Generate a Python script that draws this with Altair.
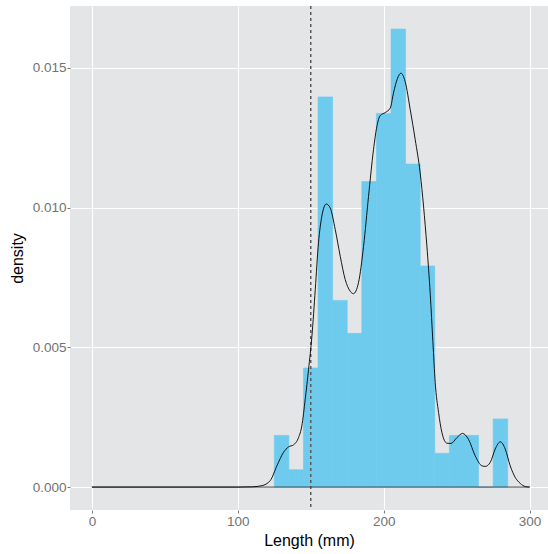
import altair as alt
import pandas as pd

# Histogram bins (binwidth 10), left edges and density heights
bin_start = [125, 135, 145, 155, 165, 175, 185, 195, 205, 215, 225, 235, 245, 255, 265, 275]
bin_density = [0.00185, 0.00062, 0.00426, 0.01396, 0.00668, 0.00550, 0.01093, 0.01337,
               0.01639, 0.01156, 0.00791, 0.00121, 0.00185, 0.00185, 0.0, 0.00244]

# Kernel density curve
dens_x = [0, 50, 100, 110, 116.5, 122.2, 126.8, 131.3, 134.8, 138.2, 141.6, 143.9, 146.2,
          148.5, 150.8, 153.1, 155.3, 157.6, 160.6, 163.3, 166.8, 170.2, 173.6, 177.0,
          179.3, 182.7, 186.2, 189.6, 193.0, 195.3, 197.6, 201.0, 204.5, 206.7, 209.5,
          211.8, 214.7, 218.2, 221.6, 225.0, 227.3, 229.6, 231.9, 233.7, 235.3, 237.6,
          239.9, 243.3, 246.1, 250.2, 254.0, 258.1, 262.7, 267.3, 269.6, 273.0, 276.4,
          279.9, 283.3, 286.7, 290.1, 293.6, 297.0, 300]
dens_y = [0, 0, 0, 0.00001, 0.00005, 0.00023, 0.00076, 0.00124, 0.00144, 0.00151, 0.00177,
          0.00219, 0.00314, 0.00421, 0.00540, 0.00707, 0.00874, 0.00969, 0.01013, 0.00999,
          0.00921, 0.00826, 0.00743, 0.00701, 0.00692, 0.00731, 0.00862, 0.01040, 0.01207,
          0.01290, 0.01329, 0.01340, 0.01356, 0.01410, 0.01463, 0.01481, 0.01451, 0.01350,
          0.01243, 0.01124, 0.01005, 0.00862, 0.00690, 0.00520, 0.00374, 0.00267, 0.00195,
          0.00157, 0.00156, 0.00177, 0.00192, 0.00171, 0.00112, 0.00076, 0.00074, 0.00088,
          0.00136, 0.00162, 0.00136, 0.00076, 0.00035, 0.00013, 0.00002, 0]

cutoff = [150]
x_ticks = [0, 100, 200, 300]
y_ticks = [0.0, 0.005, 0.010, 0.015]
binwidth = 10

bars = pd.DataFrame({"start": bin_start, "density": bin_density})
bars["end"] = bars["start"] + binwidth
dens = pd.DataFrame({"x": dens_x, "y": dens_y})
base_df = pd.DataFrame({"x": [dens_x[0]], "x2": [dens_x[-1]], "y": [0.0]})
vline_df = pd.DataFrame({"x": cutoff})

xs = alt.Scale(domain=[-15, 312.6], nice=False, zero=False)
ys = alt.Scale(domain=[-0.00082, 0.017213], nice=False, zero=False)

x_axis = alt.Axis(values=x_ticks, title="Length (mm)", format="d", titlePadding=5)
y_axis = alt.Axis(values=y_ticks, title="density", format=".3f", titlePadding=7)

hist = alt.Chart(bars).mark_rect(color="#6ECBEE", stroke="#6ECBEE", strokeWidth=0.6).encode(
    x=alt.X("start:Q", scale=xs, axis=x_axis),
    x2="end:Q",
    y=alt.Y("density:Q", scale=ys, axis=y_axis),
    y2=alt.datum(0),
)

baseline = alt.Chart(base_df).mark_rule(color="#333333", strokeWidth=0.9).encode(
    x=alt.X("x:Q", scale=xs), x2="x2:Q", y=alt.Y("y:Q", scale=ys)
)

vline = alt.Chart(vline_df).mark_rule(color="#5a5a5a", strokeWidth=1.5, strokeDash=[3, 3]).encode(
    x=alt.X("x:Q", scale=xs)
)

curve = alt.Chart(dens).mark_line(color="black", strokeWidth=0.9, interpolate="monotone").encode(
    x=alt.X("x:Q", scale=xs), y=alt.Y("y:Q", scale=ys)
)

chart = alt.layer(hist, vline, baseline, curve).properties(
    width=478, height=504,
    autosize=alt.AutoSizeParams(type="none"),
    padding={"left": 70, "top": 6, "right": 0, "bottom": 44},
).configure(
    background="white"
).configure_view(
    fill="#E4E5E7", stroke=None
).configure_axis(
    domain=False,
    grid=True,
    gridColor="white",
    gridWidth=1.1,
    tickColor="#7a7a7a",
    tickSize=3,
    labelFont="Liberation Sans",
    labelFontSize=13.5,
    labelColor="#727272",
    labelPadding=1,
    titleFont="Liberation Sans",
    titleFontSize=16,
    titleFontWeight="normal",
    titleColor="black",
)

chart.save("out.html", embed_options={"renderer": "svg", "actions": False})
